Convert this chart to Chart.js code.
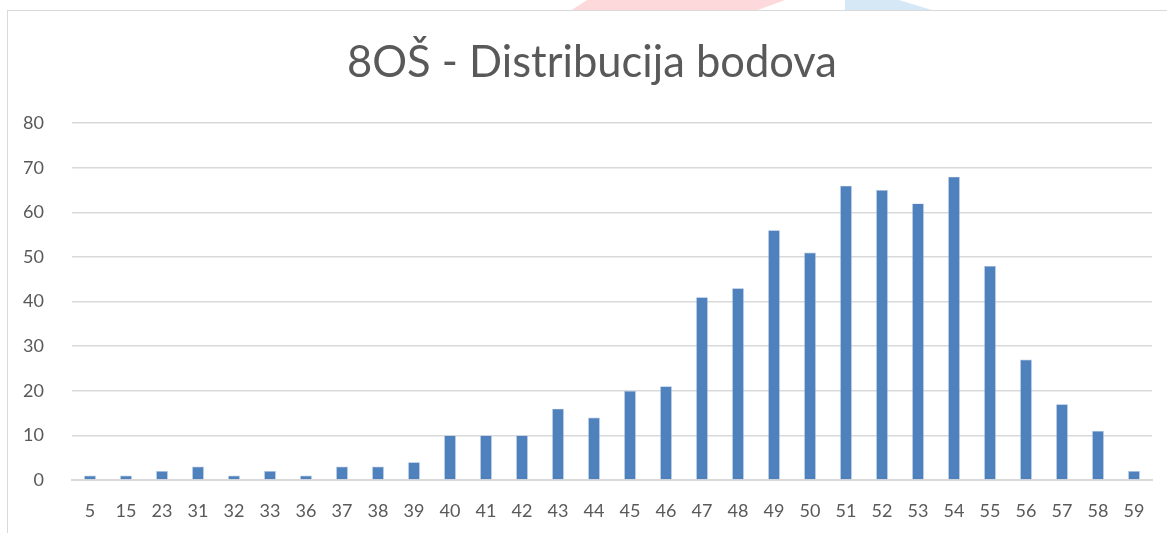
<!DOCTYPE html>
<html>
<head>
<meta charset="utf-8">
<script src="https://cdn.jsdelivr.net/npm/chart.js@4.4.1/dist/chart.umd.min.js"></script>
<style>
  html, body { margin: 0; padding: 0; background: #fff; }
  #wrap { position: relative; width: 1167px; height: 533px; overflow: hidden; }
  .mark-red { position: absolute; left: 570px; top: 0; width: 215px; height: 11px; background: #fdd9dc;
    clip-path: polygon(8% 0, 100% 0, 86% 100%, 0 100%); }
  .mark-blue { position: absolute; left: 845px; top: 0; width: 90px; height: 11px; background: #d6e8f6;
    clip-path: polygon(0 0, 60% 0, 100% 100%, 0 100%); }
  #frame { position: absolute; left: 7px; top: 10px; width: 1180px; height: 540px;
    border: 1.5px solid #d9d9d9; background: #fff; }
  canvas { position: absolute; left: 0; top: 0; }
</style>
</head>
<body>
<div id="wrap">
  <div class="mark-red"></div>
  <div class="mark-blue"></div>
  <div id="frame"></div>
  <canvas id="chart" width="1167" height="533"></canvas>
</div>
<script>
// bodovi (points) and how many pupils scored them
const categories = ["5", "15", "23", "31", "32", "33", "36", "37", "38", "39", "40", "41", "42", "43", "44",
  "45", "46", "47", "48", "49", "50", "51", "52", "53", "54", "55", "56", "57", "58", "59"];
const counts = [1, 1, 2, 3, 1, 2, 1, 3, 3, 4, 10, 10, 10, 16, 14,
  20, 21, 41, 43, 56, 51, 66, 65, 62, 68, 48, 27, 17, 11, 2];
const yTicks = [0, 10, 20, 30, 40, 50, 60, 70, 80];

const textColor = "#595959";
const gridColor = "#d9d9d9";
const fontFamily = "Lato, 'Open Sans', sans-serif";

// centre the title on the frame rather than on the whole canvas
const titleShift = {
  id: "titleShift",
  afterLayout(chart) {
    if (chart.titleBlock) chart.titleBlock.left = 32;
  }
};

new Chart(document.getElementById("chart"), {
  type: "bar",
  data: {
    labels: categories,
    datasets: [{
      data: counts,
      backgroundColor: "#4f81bd",
      borderColor: "#a7c1e3",
      borderWidth: 0.6,
      categoryPercentage: 1,
      barPercentage: 0.325
    }]
  },
  options: {
    responsive: false,
    animation: false,
    layout: { padding: { left: 0, right: 15, top: 0, bottom: 0 } },
    plugins: {
      legend: { display: false },
      tooltip: { enabled: false },
      title: {
        display: true,
        text: "8OŠ - Distribucija bodova",
        color: textColor,
        font: { family: fontFamily, size: 43.5, weight: "normal" },
        padding: { top: 37, bottom: 34 }
      }
    },
    scales: {
      x: {
        grid: { display: false },
        border: { display: true, color: gridColor, width: 2 },
        ticks: { color: textColor, font: { family: fontFamily, size: 18 }, padding: 12, maxRotation: 0, autoSkip: false },
        afterFit: (scale) => { scale.height = 53; }
      },
      y: {
        min: 0,
        max: 80,
        afterBuildTicks: (scale) => { scale.ticks = yTicks.map(v => ({ value: v })); },
        grid: { color: gridColor, lineWidth: 1.5, drawTicks: false },
        border: { display: false },
        ticks: { color: textColor, font: { family: fontFamily, size: 18 }, padding: 28 },
        afterFit: (scale) => { scale.width = 72; }
      }
    }
  },
  plugins: [titleShift]
});
</script>
</body>
</html>
